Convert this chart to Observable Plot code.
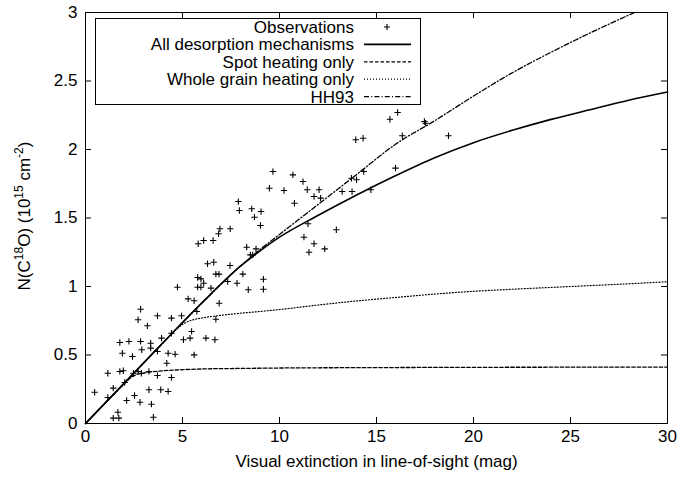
<!DOCTYPE html>
<html><head><meta charset="utf-8">
<script src="https://cdn.jsdelivr.net/npm/d3@7"></script>
<script src="https://cdn.jsdelivr.net/npm/@observablehq/plot@0.6"></script>
<style>
body{margin:0;background:#fff}
svg{font-family:"Liberation Sans",Arial,Helvetica,sans-serif}
</style>
</head><body><div id="chart"></div>
<script>
// Observations (Av in mag, N(C18O) in 1e15 cm^-2)
const obsAv = [5.78,5.95,6.72,6.88,8.11,4.74,5.78,5.95,6.09,6.47,7.33,7.81,8.39,5.29,5.60,6.89,2.84,2.71,3.71,4.43,
  4.95,5.74,6.72,3.19,4.43,5.47,5.05,5.39,6.21,6.67,1.77,2.24,2.84,3.36,3.92,1.90,2.42,2.90,3.36,3.71,
  4.26,4.62,5.60,4.19,1.15,1.77,1.95,2.47,2.71,2.88,3.27,3.71,4.43,2.02,1.43,0.47,3.27,3.88,4.26,1.15,
  2.53,2.12,2.81,3.40,1.67,1.43,1.72,3.50,6.93,6.86,7.46,5.81,6.09,6.58,6.29,6.61,7.45,13.93,14.31,9.66,
  10.69,11.21,9.48,10.23,11.43,12.04,11.78,12.12,13.71,13.97,14.34,13.23,13.74,14.71,7.88,7.93,8.57,9.05,8.71,10.77,
  9.02,11.47,12.93,11.26,11.78,12.33,11.52,8.31,8.79,8.50,8.62,9.17,9.17,16.09,15.69,17.47,17.53,16.33,18.71,15.98];
const obsN = [1.066,1.056,1.09,1.09,1.09,0.995,0.995,0.995,1.024,0.988,1.036,1.024,0.976,0.91,0.896,0.878,0.834,0.757,0.786,0.769,
  0.786,0.818,0.761,0.713,0.659,0.672,0.611,0.623,0.623,0.611,0.591,0.599,0.599,0.586,0.623,0.513,0.489,0.538,0.55,0.526,
  0.513,0.506,0.501,0.44,0.367,0.38,0.385,0.367,0.38,0.367,0.38,0.35,0.336,0.299,0.258,0.228,0.246,0.246,0.234,0.19,
  0.204,0.168,0.155,0.141,0.082,0.039,0.039,0.046,1.421,1.385,1.421,1.312,1.336,1.336,1.166,1.177,1.153,2.071,2.082,1.839,
  1.815,1.766,1.717,1.701,1.706,1.706,1.657,1.645,1.79,1.779,1.839,1.693,1.693,1.706,1.62,1.555,1.567,1.547,1.506,1.608,
  1.445,1.458,1.414,1.36,1.312,1.275,1.25,1.287,1.275,1.231,1.231,1.053,0.98,2.27,2.221,2.204,2.192,2.1,2.1,1.864];

// Model curves
const allAv  = [0,2,4,6,8,9,10,12,14,16,18,20,22,24,26,28,30];
const allN   = [0,0.295,0.59,0.88,1.15,1.26,1.36,1.52,1.67,1.81,1.94,2.05,2.14,2.22,2.29,2.36,2.42];
const spotAv = [0,1,2,2.3,2.6,3,3.5,4,5,6,8,10,15,20,25,30];
const spotN  = [0,0.147,0.29,0.33,0.355,0.368,0.378,0.385,0.393,0.398,0.402,0.405,0.408,0.41,0.411,0.412];
const wholeAv = [0,2,4,4.7,5.1,5.5,6,7,8,9,10,12,14,16,18,20,22,25,28,30];
const wholeN  = [0,0.295,0.59,0.69,0.732,0.755,0.77,0.79,0.805,0.818,0.832,0.865,0.895,0.92,0.945,0.965,0.98,1.0,1.02,1.035];
const hhAv = [0,2,4,6,8,9,10,12,14,16,18,20,22,24,26,28.3];
const hhN  = [0,0.295,0.59,0.88,1.15,1.27,1.38,1.60,1.82,2.04,2.21,2.39,2.56,2.71,2.85,3.0];

const xTicks = [0,5,10,15,20,25,30];
const yTicks = [0,0.5,1,1.5,2,2.5,3];
const legendLabels = ["Observations","All desorption mechanisms","Spot heating only","Whole grain heating only","HH93"];
const legendDash = [null,"none","3.5,2","1,2","5,2.2,1,2.2"];
const xLabel = "Visual extinction in line-of-sight (mag)";

const toRows = (xs, ys) => xs.map((x, i) => ({x, y: ys[i]}));
const obs = toRows(obsAv, obsN);

const W = 691, H = 477, mT = 12, mB = 54, mL = 85, mR = 24;
const innerH = H - mT - mB, innerW = W - mL - mR;
const FS = 17;

const chart = Plot.plot({
  width: W, height: H,
  marginTop: mT, marginBottom: mB, marginLeft: mL, marginRight: mR,
  style: {fontSize: FS + "px", fontFamily: '"Liberation Sans", Arial, sans-serif', background: "#fff", color: "#000"},
  x: {domain: [0, 30], label: null},
  y: {domain: [0, 3], label: null},
  marks: [
    Plot.line(toRows(spotAv, spotN), {x: "x", y: "y", stroke: "black", strokeWidth: 1.3, strokeDasharray: "3.5,2", curve: "monotone-x"}),
    Plot.line(toRows(wholeAv, wholeN), {x: "x", y: "y", stroke: "black", strokeWidth: 1.2, strokeDasharray: "1,2", curve: "monotone-x"}),
    Plot.line(toRows(hhAv, hhN), {x: "x", y: "y", stroke: "black", strokeWidth: 1.3, strokeDasharray: "5,2.2,1,2.2", curve: "monotone-x"}),
    Plot.line(toRows(allAv, allN), {x: "x", y: "y", stroke: "black", strokeWidth: 1.6, curve: "monotone-x"}),
    Plot.dot(obs, {x: "x", y: "y", symbol: "plus", r: 2.2, stroke: "black", strokeWidth: 1.1}),
    // inward ticks on all four sides
    Plot.tickX(xTicks, {x: d => d, stroke: "black", insetTop: innerH - 6}),
    Plot.tickX(xTicks, {x: d => d, stroke: "black", insetBottom: innerH - 6}),
    Plot.tickY(yTicks, {y: d => d, stroke: "black", insetRight: innerW - 6}),
    Plot.tickY(yTicks, {y: d => d, stroke: "black", insetLeft: innerW - 6}),
    Plot.axisX(xTicks, {tickSize: 0, tickPadding: 6, tickFormat: d => String(d), fontSize: FS}),
    Plot.axisY(yTicks, {tickSize: 0, tickPadding: 8, tickFormat: d => String(d), fontSize: FS}),
    Plot.frame({stroke: "black", strokeWidth: 1}),
    Plot.text([xLabel], {text: d => d, frameAnchor: "bottom", dy: 43, fontSize: FS})
  ]
});
document.getElementById("chart").appendChild(chart);

const svg = d3.select(chart);
// y-axis label with superscripts
const yl = svg.append("text")
  .attr("transform", "translate(30,216) rotate(-90)")
  .attr("text-anchor", "middle")
  .attr("font-size", FS)
  .attr("fill", "black");
const parts = [["N(C",0],["18",1],["O) (10",0],["15",1],[" cm",0],["-2",1],[")",0]];
let prevSup = false;
parts.forEach(([t, sup]) => {
  const ts = yl.append("tspan").text(t);
  if (sup) { ts.attr("font-size", 12).attr("dy", -7); prevSup = true; }
  else if (prevSup) { ts.attr("dy", 7); prevSup = false; }
});

// legend
const lg = svg.append("g").attr("font-size", FS).attr("fill", "black");
lg.append("rect").attr("x", 95.5).attr("y", 18.5).attr("width", 325).attr("height", 86)
  .attr("fill", "none").attr("stroke", "black");
legendLabels.forEach((t, i) => {
  const cy = 27 + 17.4 * i;
  lg.append("text").attr("x", 354).attr("y", cy).attr("dy", "0.35em").attr("text-anchor", "end").text(t);
  if (i === 0) {
    lg.append("path").attr("d", `M384,${cy}h6M387,${cy - 3}v6`).attr("stroke", "black").attr("stroke-width", 1.1);
  } else {
    const ln = lg.append("line").attr("x1", 364).attr("x2", 411).attr("y1", cy).attr("y2", cy)
      .attr("stroke", "black").attr("stroke-width", i === 1 ? 1.6 : (i === 3 ? 1.2 : 1.3));
    if (legendDash[i] !== "none") ln.attr("stroke-dasharray", legendDash[i]);
  }
});
</script>
</body></html>
